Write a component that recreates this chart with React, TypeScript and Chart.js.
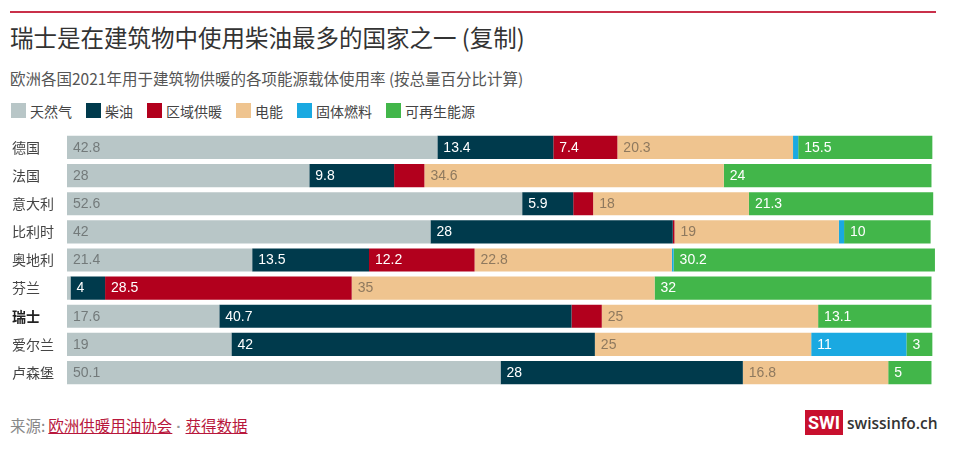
import React, { useEffect, useRef } from 'react';
import { Chart, registerables } from 'chart.js';

Chart.register(...registerables);

const countries = ['德国', '法国', '意大利', '比利时', '奥地利', '芬兰', '瑞士', '爱尔兰', '卢森堡'];
const seriesNames = ['天然气', '柴油', '区域供暖', '电能', '固体燃料', '可再生能源'];
const gas = [42.8, 28, 52.6, 42, 21.4, 0.4, 17.6, 19, 50.1];
const oil = [13.4, 9.8, 5.9, 28, 13.5, 4, 40.7, 42, 28];
const district = [7.4, 3.5, 2.3, 0.2, 12.2, 28.5, 3.5, 0, 0];
const electricity = [20.3, 34.6, 18, 19, 22.8, 35, 25, 25, 16.8];
const solid = [0.6, 0, 0, 0.6, 0.2, 0, 0, 11, 0];
const renewables = [15.5, 24, 21.3, 10, 30.2, 32, 13.1, 3, 5];
const seriesColors = ['#b8c6c7', '#003a4c', '#b2001d', '#efc48f', '#1aa9e1', '#42b64a'];
// segments that carry no number in the source (series-row)
const unlabelled = ['2-1', '2-2', '2-6'];

const FONT = '"Noto Sans CJK SC", "Liberation Sans", sans-serif';
const NUM_FONT = '"Liberation Sans", "Noto Sans CJK SC", sans-serif';

const labelPlugin = {
  id: 'segLabels',
  afterDatasetsDraw(chart: any) {
    const ctx = chart.ctx;
    ctx.save();
    ctx.font = `14px ${NUM_FONT}`;
    ctx.textBaseline = 'middle';
    ctx.textAlign = 'left';
    chart.data.datasets.forEach((ds: any, di: number) => {
      const meta = chart.getDatasetMeta(di);
      meta.data.forEach((el: any, i: number) => {
        const v = ds.data[i];
        if (v < 3 || unlabelled.includes(`${di}-${i}`)) return;
        ctx.fillStyle = di === 0 || di === 3 ? 'rgba(45,45,45,0.5)' : '#ffffff';
        const x0 = Math.min(el.base, el.x);
        ctx.fillText(String(v), x0 + 6, el.y + 0.5);
      });
    });
    ctx.restore();
  },
};

export default function App() {
  const ref = useRef<HTMLCanvasElement>(null);
  useEffect(() => {
    document.body.style.margin = '0';
    const all = [gas, oil, district, electricity, solid, renewables];
    const chart = new Chart(ref.current!, {
      type: 'bar',
      data: {
        labels: countries,
        datasets: all.map((d, i) => ({
          label: seriesNames[i],
          data: d,
          backgroundColor: seriesColors[i],
          borderWidth: 0,
          barPercentage: 0.825,
          categoryPercentage: 1,
        })),
      },
      options: {
        indexAxis: 'y',
        animation: false,
        responsive: false,
        maintainAspectRatio: false,
        layout: { padding: { top: 7.5, bottom: 6.4, left: 12, right: 19 } },
        plugins: { legend: { display: false }, tooltip: { enabled: false }, title: { display: false } },
        scales: {
          x: { stacked: true, min: 0, max: 101, display: false },
          y: {
            stacked: true,
            grid: { display: false },
            border: { display: false },
            afterFit: (s: any) => { s.width = 55; },
            ticks: {
              crossAlign: 'far',
              padding: 0,
              color: (c: any) => (c.index === 6 ? '#222' : '#444'),
              font: (c: any) => ({ size: 14, family: FONT, weight: c.index === 6 ? 'bold' : 'normal' }),
            },
          },
        },
      },
      plugins: [labelPlugin],
    } as any);
    return () => chart.destroy();
  }, []);

  const legendItem = (name: string, color: string) => (
    <div key={name} style={{ display: 'flex', alignItems: 'center', marginRight: 14 }}>
      <div style={{ width: 15, height: 15, background: color, marginRight: 4 }} />
      <span>{name}</span>
    </div>
  );

  return (
    <div style={{ position: 'relative', width: 960, height: 457, fontFamily: FONT, color: '#333', background: '#fff', overflow: 'hidden' }}>
      <div style={{ position: 'absolute', left: 10, top: 11, width: 926, height: 2, background: '#c9304a' }} />
      <div style={{ position: 'absolute', left: 10, top: 24, fontSize: 23.5, lineHeight: '26px', color: '#333', whiteSpace: 'nowrap' }}>
        瑞士是在建筑物中使用柴油最多的国家之一 (复制)
      </div>
      <div style={{ position: 'absolute', left: 10, top: 68, fontSize: 15.5, lineHeight: '20px', color: '#555', whiteSpace: 'nowrap' }}>
        欧洲各国2021年用于建筑物供暖的各项能源载体使用率 (按总量百分比计算)
      </div>
      <div style={{ position: 'absolute', left: 11, top: 101, height: 19, display: 'flex', alignItems: 'center', fontSize: 14, color: '#444' }}>
        {seriesNames.map((n, i) => legendItem(n, seriesColors[i]))}
      </div>
      <div style={{ position: 'absolute', left: 0, top: 125, width: 960, height: 270 }}>
        <canvas ref={ref} width={960} height={270} style={{ display: 'block' }} />
      </div>
      <div style={{ position: 'absolute', left: 10, top: 415, fontSize: 15.5, lineHeight: '20px', color: '#888', whiteSpace: 'nowrap' }}>
        来源:<span style={{ color: '#b8173c', textDecoration: 'underline', marginLeft: 3 }}>欧洲供暖用油协会</span>
        <span style={{ color: '#999', margin: '0 4px', fontFamily: '"Liberation Sans", sans-serif', fontWeight: 'bold' }}>·</span>
        <span style={{ color: '#b8173c', textDecoration: 'underline' }}>获得数据</span>
      </div>
      <div style={{ position: 'absolute', left: 805, top: 410, width: 38, height: 25, background: '#c8102e', color: '#fff', fontFamily: '"Liberation Sans Narrow", "Roboto", sans-serif', fontWeight: 'bold', fontSize: 18, lineHeight: '25px', textAlign: 'center' }}>
        SWI
      </div>
      <div style={{ position: 'absolute', left: 847, top: 411, fontSize: 15.5, lineHeight: '24px', color: '#333', fontFamily: '"Open Sans", sans-serif', fontWeight: 600, whiteSpace: 'nowrap' }}>
        swissinfo.ch
      </div>
    </div>
  );
}
